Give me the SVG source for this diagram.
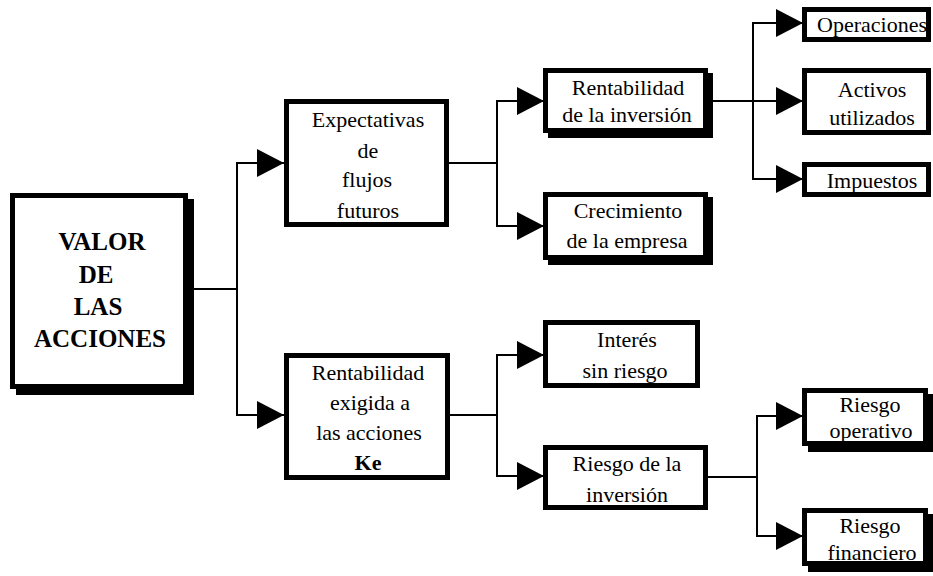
<svg xmlns="http://www.w3.org/2000/svg" width="933" height="576" viewBox="0 0 933 576">
<style>
.box{fill:#fff;stroke:#000;stroke-width:5}
.sh{fill:#000}
.t{font-family:"Liberation Serif","Times New Roman",serif;font-size:22px;text-anchor:middle;fill:#000}
.b{font-weight:bold}
.big{font-family:"Liberation Serif","Times New Roman",serif;font-size:25px;font-weight:bold;text-anchor:middle;fill:#000}
.ln{fill:none;stroke:#000;stroke-width:2}
.ar{fill:none;stroke:#000;stroke-width:2;marker-end:url(#ah)}
</style>
<defs>
<marker id="ah" markerUnits="userSpaceOnUse" markerWidth="28" markerHeight="28" refX="27" refY="14" orient="auto">
<path d="M0,0 L27,14 L0,28 Z" fill="#000"/>
</marker>
</defs>
<rect width="933" height="576" fill="#fff"/>
<g id="connectors">
<path class="ln" d="M194,289 H237 M237,163 V415"/>
<path class="ar" d="M236,163 H284"/>
<path class="ar" d="M236,415 H284"/>
<path class="ln" d="M449,163 H497 M497,101 V226"/>
<path class="ar" d="M496,101 H544"/>
<path class="ar" d="M496,226 H544"/>
<path class="ln" d="M712,101 H753 M753,23 V179"/>
<path class="ar" d="M752,23 H803"/>
<path class="ar" d="M752,101 H803"/>
<path class="ar" d="M752,179 H803"/>
<path class="ln" d="M449,415 H497 M497,355 V476"/>
<path class="ar" d="M496,355 H544"/>
<path class="ar" d="M496,476 H544"/>
<path class="ln" d="M708,477 H757 M757,416 V536"/>
<path class="ar" d="M756,416 H803"/>
<path class="ar" d="M756,536 H803"/>
</g>
<g id="valor">
<rect class="sh" x="16" y="199" width="178" height="196"/>
<rect class="box" x="12.5" y="195.5" width="173" height="191"/>
<text class="big" x="102" y="250">VALOR</text>
<text class="big" x="96" y="283">DE</text>
<text class="big" x="98" y="315">LAS</text>
<text class="big" x="100" y="347">ACCIONES</text>
</g>
<g id="expectativas">
<rect class="box" x="286.5" y="101.5" width="160" height="123"/>
<text class="t" x="368" y="127">Expectativas</text>
<text class="t" x="368" y="158">de</text>
<text class="t" x="367" y="187">flujos</text>
<text class="t" x="368" y="218">futuros</text>
</g>
<g id="exigida">
<rect class="box" x="286.5" y="355.5" width="161" height="122"/>
<text class="t" x="368" y="380">Rentabilidad</text>
<text class="t" x="370" y="410">exigida a</text>
<text class="t" x="369" y="440">las acciones</text>
<text class="t b" x="368" y="470">Ke</text>
</g>
<g id="rentabilidad">
<rect class="sh" x="548" y="73" width="165" height="65"/>
<rect class="box" x="545.5" y="70.5" width="160" height="60"/>
<text class="t" x="628" y="95">Rentabilidad</text>
<text class="t" x="627" y="122">de la inversión</text>
</g>
<g id="crecimiento">
<rect class="sh" x="548" y="197" width="165" height="68"/>
<rect class="box" x="545.5" y="194.5" width="160" height="63"/>
<text class="t" x="628" y="218">Crecimiento</text>
<text class="t" x="627" y="248">de la empresa</text>
</g>
<g id="interes">
<rect class="box" x="545.5" y="322.5" width="152" height="63"/>
<text class="t" x="627" y="347">Interés</text>
<text class="t" x="625" y="378">sin riesgo</text>
</g>
<g id="riesgo-inversion">
<rect class="box" x="545.5" y="447.5" width="160" height="60"/>
<text class="t" x="627" y="471">Riesgo de la</text>
<text class="t" x="627" y="502">inversión</text>
</g>
<g id="operaciones">
<rect class="box" x="804.5" y="9.5" width="124" height="30"/>
<text class="t" x="872" y="32">Operaciones</text>
</g>
<g id="activos">
<rect class="box" x="804.5" y="70.5" width="124" height="62"/>
<text class="t" x="872" y="97">Activos</text>
<text class="t" x="872" y="125">utilizados</text>
</g>
<g id="impuestos">
<rect class="box" x="804.5" y="164.5" width="124" height="30"/>
<text class="t" x="872" y="188">Impuestos</text>
</g>
<g id="riesgo-operativo">
<rect class="sh" x="808" y="394" width="126" height="58"/>
<rect class="box" x="804.5" y="390.5" width="121" height="53"/>
<text class="t" x="870" y="412">Riesgo</text>
<text class="t" x="871" y="438">operativo</text>
</g>
<g id="riesgo-financiero">
<rect class="sh" x="808" y="514" width="126" height="58"/>
<rect class="box" x="804.5" y="510.5" width="121" height="53"/>
<text class="t" x="870" y="533">Riesgo</text>
<text class="t" x="872" y="560">financiero</text>
</g>
</svg>
